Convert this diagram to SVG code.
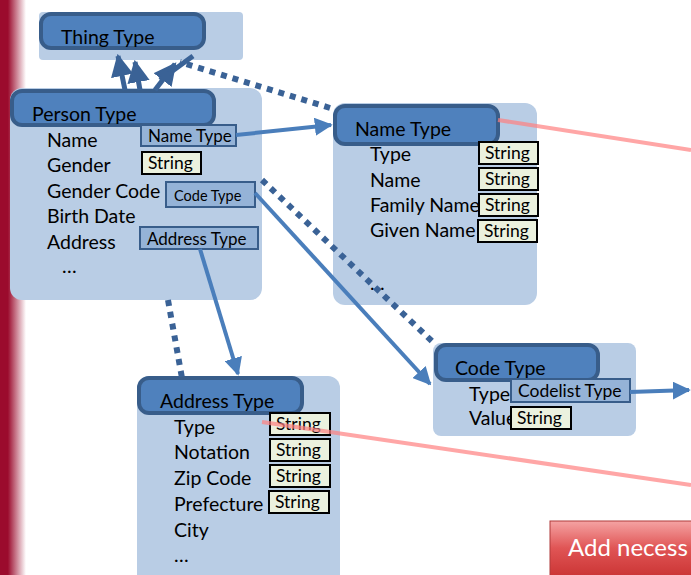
<svg xmlns="http://www.w3.org/2000/svg" width="691" height="575" viewBox="0 0 691 575">
<defs>
<linearGradient id="sidebar" x1="0" y1="0" x2="1" y2="0">
<stop offset="0" stop-color="#9b0b2d"/>
<stop offset="0.3" stop-color="#9b0b2d"/>
<stop offset="1" stop-color="#ffffff"/>
</linearGradient>
<linearGradient id="btn" x1="0" y1="0" x2="0" y2="1">
<stop offset="0" stop-color="#f5a3a3"/>
<stop offset="0.45" stop-color="#e05555"/>
<stop offset="1" stop-color="#c83030"/>
</linearGradient>
<marker id="ah" viewBox="0 0 10 10" refX="9" refY="5" markerWidth="4.5" markerHeight="4.5" orient="auto" markerUnits="strokeWidth">
<path d="M0,0 L10,5 L0,10 z" fill="#4a7ebb"/>
</marker>
<marker id="ahd" viewBox="0 0 10 10" refX="9" refY="5" markerWidth="4.5" markerHeight="4.5" orient="auto" markerUnits="strokeWidth">
<path d="M0,0 L10,5 L0,10 z" fill="#3a6296"/>
</marker>
<style>
text{font-family:"Lato","Noto Sans",sans-serif;fill:#000}
.cont{fill:#b9cde5}
.hdr{fill:#4f81bd;stroke:#385d8a;stroke-width:4}
.hdt{font-size:19.5px}
.lbl{font-size:19.5px}
.tbox{fill:#95b3d7;stroke:#385d8a;stroke-width:2}
.sbox{fill:#ebf1de;stroke:#000;stroke-width:2}
.st{font-size:17.5px}
.solid{stroke:#4a7ebb;stroke-width:4;fill:none}
.dot{stroke:#3a6296;stroke-width:6;fill:none;stroke-dasharray:6 6}
.pink{stroke:#ff8080;stroke-opacity:0.7;stroke-width:4;fill:none}
</style>
</defs>
<rect x="0" y="0" width="26" height="575" fill="url(#sidebar)"/>

<g id="thing-type">
<rect class="cont" x="39" y="12" width="204" height="48" rx="4"/>
<rect class="hdr" x="41" y="14" width="163" height="34" rx="10"/>
<text class="hdt" x="61" y="44">Thing Type</text>
</g>

<g id="person-type">
<rect class="cont" x="10" y="88" width="252" height="212" rx="12"/>
<rect class="hdr" x="12" y="91" width="202" height="34" rx="10"/>
<text class="hdt" x="32" y="121">Person Type</text>
<text class="lbl" x="47" y="147">Name</text>
<text class="lbl" x="47" y="172">Gender</text>
<text class="lbl" x="47" y="198">Gender Code</text>
<text class="lbl" x="47" y="223">Birth Date</text>
<text class="lbl" x="47" y="249">Address</text>
<text class="lbl" x="62" y="273">…</text>
<rect class="tbox" x="141" y="125" width="95" height="21"/>
<text x="148" y="142" font-size="17">Name Type</text>
<rect class="sbox" x="142" y="152" width="59" height="22"/>
<text class="st" x="148" y="169">String</text>
<rect class="tbox" x="166" y="182" width="89" height="25"/>
<text x="174" y="201" font-size="14.5">Code Type</text>
<rect class="tbox" x="140" y="227" width="118" height="22"/>
<text x="147" y="245" font-size="17">Address Type</text>
</g>

<g id="name-type">
<rect class="cont" x="333" y="103" width="204" height="202" rx="12"/>
<rect class="hdr" x="335" y="106" width="163" height="38" rx="10"/>
<text class="hdt" x="355" y="136">Name Type</text>
<text class="lbl" x="370" y="161">Type</text>
<text class="lbl" x="370" y="187">Name</text>
<text class="lbl" x="370" y="212">Family Name</text>
<text class="lbl" x="370" y="237">Given Name</text>
<text class="lbl" x="370" y="290">…</text>
<rect class="sbox" x="479" y="142" width="59" height="22"/>
<text class="st" x="485" y="159">String</text>
<rect class="sbox" x="479" y="168" width="59" height="22"/>
<text class="st" x="485" y="185">String</text>
<rect class="sbox" x="479" y="194" width="59" height="22"/>
<text class="st" x="485" y="211">String</text>
<rect class="sbox" x="478" y="220" width="59" height="22"/>
<text class="st" x="484" y="237">String</text>
</g>

<g id="code-type">
<rect class="cont" x="433" y="343" width="203" height="93" rx="8"/>
<rect class="hdr" x="436" y="345" width="162" height="35" rx="10"/>
<text class="hdt" x="455" y="375">Code Type</text>
<text class="lbl" x="469" y="401">Type</text>
<text class="lbl" x="469" y="425">Value</text>
<rect class="tbox" x="511" y="379" width="119" height="23"/>
<text class="st" x="518" y="397">Codelist Type</text>
<rect class="sbox" x="511" y="407" width="60" height="22"/>
<text class="st" x="517" y="424">String</text>
</g>

<g id="address-type">
<rect class="cont" x="137" y="376" width="203" height="210" rx="12"/>
<rect class="hdr" x="139" y="378" width="163" height="35" rx="10"/>
<text class="hdt" x="160" y="408">Address Type</text>
<text class="lbl" x="174" y="434">Type</text>
<text class="lbl" x="174" y="459">Notation</text>
<text class="lbl" x="174" y="485">Zip Code</text>
<text class="lbl" x="174" y="511">Prefecture</text>
<text class="lbl" x="174" y="537">City</text>
<text class="lbl" x="174" y="562">…</text>
<rect class="sbox" x="270" y="413" width="60" height="22"/>
<text class="st" x="276" y="430">String</text>
<rect class="sbox" x="270" y="439" width="60" height="22"/>
<text class="st" x="276" y="456">String</text>
<rect class="sbox" x="270" y="465" width="60" height="22"/>
<text class="st" x="276" y="482">String</text>
<rect class="sbox" x="269" y="491" width="60" height="22"/>
<text class="st" x="275" y="508">String</text>
</g>

<g id="connectors">
<path class="solid" d="M236,135 L331,125" marker-end="url(#ah)"/>
<path class="solid" d="M255,193 L430,384" marker-end="url(#ah)"/>
<path class="solid" d="M200,249 L238,374" marker-end="url(#ah)"/>
<path class="solid" d="M630,392 L689,390" marker-end="url(#ah)"/>
<path class="dot" d="M330,108 L180,62"/>
<path class="dot" d="M262,180 L436,345"/>
<path class="dot" d="M168,300 L182,378"/>
<path d="M125,90 L118,56" stroke="#3a6296" stroke-width="5" marker-end="url(#ahd)"/>
<path d="M140,90 L135,62" stroke="#3a6296" stroke-width="5" marker-end="url(#ahd)"/>
<path d="M155,90 L175,64" stroke="#3a6296" stroke-width="5" marker-end="url(#ahd)"/>
<path d="M160,80 L193,56" stroke="#3a6296" stroke-width="5"/>
<path class="pink" d="M498,120 L691,150"/>
<path class="pink" d="M262,422 L691,485"/>
</g>

<g id="button">
<rect x="550" y="521" width="150" height="60" fill="url(#btn)" stroke="#b03a3a" stroke-width="1"/>
<text x="568" y="556" font-size="24" style="fill:#ffffff">Add necess</text>
</g>
</svg>
